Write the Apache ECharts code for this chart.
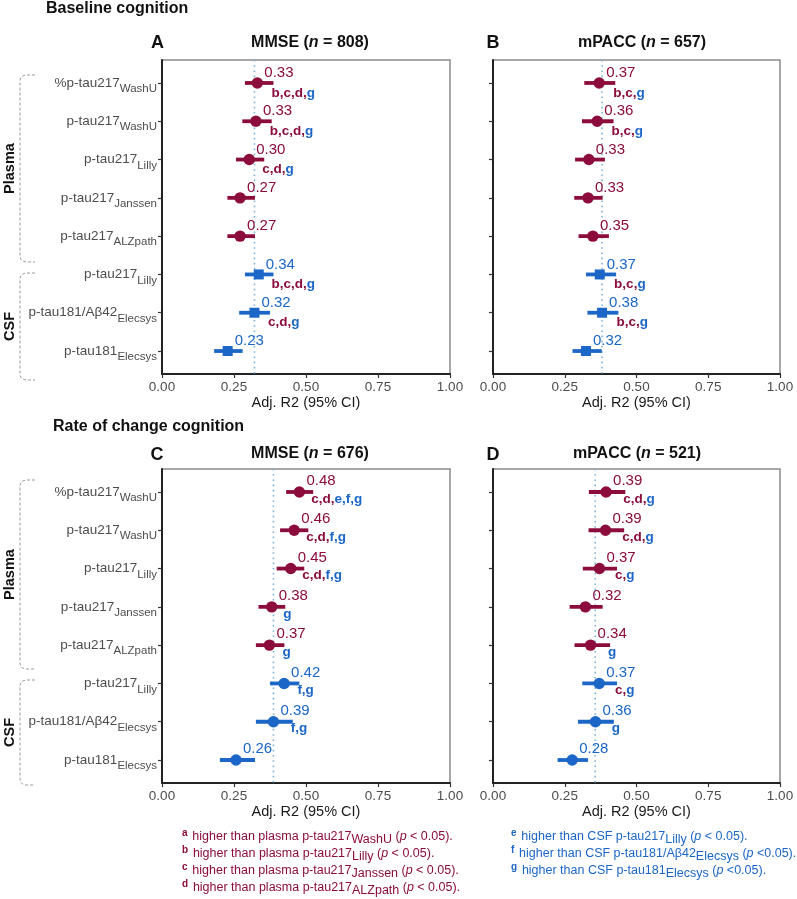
<!DOCTYPE html>
<html><head><meta charset="utf-8">
<script src="https://cdn.jsdelivr.net/npm/echarts@6/dist/echarts.min.js"></script>
<style>html,body{margin:0;padding:0;background:#fff}#c{width:797px;height:899px}</style>
</head><body><div id="c"></div>
<script>
// ---------- data ----------
const rowMain = ['%p-tau217','p-tau217','p-tau217','p-tau217','p-tau217','p-tau217','p-tau181/Aβ42','p-tau181'];
const rowSub  = ['WashU','WashU','Lilly','Janssen','ALZpath','Lilly','Elecsys','Elecsys'];
const rowIsCSF = [0,0,0,0,0,1,1,1];
const xTicks = [0, 0.25, 0.5, 0.75, 1];

// A: Baseline MMSE
const estA = [0.331,0.326,0.303,0.271,0.271,0.336,0.321,0.228];
const loA  = [0.288,0.279,0.257,0.227,0.227,0.288,0.268,0.181];
const hiA  = [0.387,0.381,0.355,0.323,0.323,0.387,0.375,0.280];
const letA = ['b,c,d,g','b,c,d,g','c,d,g','','','b,c,d,g','c,d,g',''];
const refA = 0.321;
// B: Baseline mPACC
const estB = [0.370,0.363,0.334,0.331,0.348,0.372,0.380,0.324];
const loB  = [0.318,0.310,0.286,0.283,0.298,0.324,0.329,0.277];
const hiB  = [0.426,0.420,0.390,0.382,0.404,0.429,0.437,0.379];
const letB = ['b,c,g','b,c,g','','','','b,c,g','b,c,g',''];
const refB = 0.380;
// C: Rate of change MMSE
const estC = [0.477,0.459,0.447,0.381,0.373,0.424,0.387,0.257];
const loC  = [0.431,0.410,0.398,0.335,0.326,0.375,0.326,0.201];
const hiC  = [0.525,0.508,0.494,0.428,0.425,0.477,0.454,0.323];
const letC = ['c,d,e,f,g','c,d,f,g','c,d,f,g','g','g','f,g','f,g',''];
const refC = 0.387;
// D: Rate of change mPACC
const estD = [0.394,0.392,0.371,0.322,0.340,0.370,0.357,0.276];
const loD  = [0.334,0.333,0.313,0.267,0.284,0.311,0.296,0.225];
const hiD  = [0.461,0.457,0.432,0.382,0.408,0.432,0.421,0.331];
const letD = ['c,d,g','c,d,g','c,g','','g','c,g','g',''];
const refD = 0.356;

const panelTitles = [['MMSE (','n',' = 808)'],['mPACC (','n',' = 657)'],['MMSE (','n',' = 676)'],['mPACC (','n',' = 521)']];
const panelLetters = ['A','B','C','D'];
const sectionTitles = ['Baseline cognition','Rate of change cognition'];
const groupNames = ['Plasma','CSF'];

// ---------- style ----------
const RED = '#8c0d3b', BLUE = '#1b66c6';
const FONT = '"Liberation Sans", Arial, Helvetica, sans-serif';
const Y_MIN = -0.6, Y_MAX = 7.6;

const panels = [
  {est:estA, lo:loA, hi:hiA, let:letA, ref:refA, left:162, top:60, width:288, csf:'square', labels:true,  valDy:-10, letDy:10},
  {est:estB, lo:loB, hi:hiB, let:letB, ref:refB, left:493, top:60, width:287, csf:'square', labels:false, valDy:-10, letDy:10},
  {est:estC, lo:loC, hi:hiC, let:letC, ref:refC, left:162, top:469, width:288, csf:'circle', labels:true,  valDy:-11, letDy:7},
  {est:estD, lo:loD, hi:hiD, let:letD, ref:refD, left:493, top:469, width:287, csf:'circle', labels:false, valDy:-11, letDy:7}
];
const PH = 314;

function letterRich(s) {
  const parts = s.split(',');
  return parts.map((L, k) => {
    const cls = 'abcd'.indexOf(L) >= 0 ? 'r' : 'b';
    return '{' + cls + '|' + L + (k < parts.length - 1 ? ',' : '') + '}';
  }).join('');
}

function makeRender(p) {
  return function (params, api) {
    const i = params.dataIndex;
    const est = api.value(0), lo = api.value(1), hi = api.value(2), row = api.value(3);
    const c = api.coord([est, row]), a = api.coord([lo, row]), b = api.coord([hi, row]);
    const col = rowIsCSF[i] ? BLUE : RED;
    const ch = [{type:'line', shape:{x1:a[0], y1:a[1], x2:b[0], y2:b[1]}, style:{stroke:col, lineWidth:3.8}}];
    if (rowIsCSF[i] && p.csf === 'square') {
      ch.push({type:'rect', shape:{x:c[0]-5, y:c[1]-5, width:10, height:10}, style:{fill:col}});
    } else {
      ch.push({type:'circle', shape:{cx:c[0], cy:c[1], r:5.7}, style:{fill:col}});
    }
    ch.push({type:'text', style:{text: est.toFixed(2), x:c[0]+7, y:c[1]+p.valDy, fill:col,
      fontSize:15, fontFamily:FONT, align:'left', verticalAlign:'middle'}});
    const L = p.let[i];
    if (L) {
      ch.push({type:'text', style:{text: letterRich(L), x:b[0]-2, y:c[1]+p.letDy, align:'left', verticalAlign:'middle',
        rich:{r:{fill:RED, fontWeight:'bold', fontSize:13.5, fontFamily:FONT},
              b:{fill:BLUE, fontWeight:'bold', fontSize:13.5, fontFamily:FONT}}}});
    }
    return {type:'group', children:ch};
  };
}

const grids = [], xAxes = [], yAxes = [], series = [];
panels.forEach((p, k) => {
  grids.push({left:p.left, top:p.top, width:p.width, height:PH, show:true, borderColor:'#8a8a8a', borderWidth:1.5,
    backgroundColor:'#fff', containLabel:false, outerBoundsMode:'none'});
  xAxes.push({type:'value', gridIndex:k, min:0, max:1, interval:0.25,
    axisLine:{show:true, onZero:false, lineStyle:{color:'#222', width:2}},
    axisTick:{show:true, length:4, lineStyle:{color:'#333', width:1.2}},
    axisLabel:{show:true, margin:6.5, color:'#4d4d4d', fontSize:13.5, fontFamily:FONT, formatter:v => v.toFixed(2)},
    splitLine:{show:false},
    name:'Adj. R2 (95% CI)', nameLocation:'middle', nameGap:21.5,
    nameTextStyle:{color:'#1a1a1a', fontSize:14.5, fontFamily:FONT}});
  yAxes.push({type:'value', gridIndex:k, min:Y_MIN, max:Y_MAX, inverse:true,
    axisLine:{show:true, onZero:false, lineStyle:{color:'#222', width:2}},
    axisTick:{show:true, length:4, customValues:[0,1,2,3,4,5,6,7], lineStyle:{color:'#333', width:1.2}},
    axisLabel:{show:p.labels, margin:5, customValues:[0,1,2,3,4,5,6,7],
      formatter: v => '{m|' + rowMain[v] + '}{s|' + rowSub[v] + '}',
      rich:{m:{fontSize:13.5, color:'#4d4d4d', fontFamily:FONT, lineHeight:24},
            s:{fontSize:11.5, color:'#4d4d4d', fontFamily:FONT, lineHeight:8, verticalAlign:'bottom'}}},
    splitLine:{show:false}});
  series.push({type:'line', xAxisIndex:k, yAxisIndex:k, data:[[p.ref, Y_MIN],[p.ref, Y_MAX]],
    symbol:'none', silent:true, z:1, animation:false,
    lineStyle:{color:'#7fb3dd', width:1.6, type:[1.6,3.6]}});
  series.push({type:'custom', xAxisIndex:k, yAxisIndex:k, z:3, animation:false, silent:true,
    dimensions:['est','lo','hi','row'], encode:{x:[0,1,2], y:3},
    data: p.est.map((e, i) => [e, p.lo[i], p.hi[i], i]),
    renderItem: makeRender(p)});
});

// ---------- graphic annotations ----------
const g = [];
function txt(x, y, text, opt) {
  g.push({type:'text', x:x, y:y, style:Object.assign({text:text, fontFamily:FONT, fill:'#111',
    verticalAlign:'middle', align:'left'}, opt || {})});
}
txt(46, 9, sectionTitles[0], {fontSize:16, fontWeight:'bold'});
txt(53, 427, sectionTitles[1], {fontSize:16, fontWeight:'bold'});
const letterPos = [[157.5,43],[493,43],[157,455],[493,455]];
const titlePos = [[310,43],[642,43],[310,454],[637,454]];
panelLetters.forEach((L, k) => txt(letterPos[k][0], letterPos[k][1], L, {fontSize:18, fontWeight:'bold', align:'center'}));
panelTitles.forEach((t, k) => {
  g.push({type:'text', x:titlePos[k][0], y:titlePos[k][1], style:{
    text:'{b|' + t[0] + '}{i|' + t[1] + '}{b|' + t[2] + '}', align:'center', verticalAlign:'middle',
    rich:{b:{fontSize:16, fontWeight:'bold', fontFamily:FONT, fill:'#111'},
          i:{fontSize:16, fontWeight:'bold', fontStyle:'italic', fontFamily:FONT, fill:'#111'}}}});
});

// brackets and group labels
const brackets = [[75,262,0],[273,380,1],[480,669,0],[680,785,1]];
brackets.forEach(b => {
  const t = b[0], e = b[1];
  g.push({type:'polyline', shape:{points:[[35,t],[26,t],[22.5,t+1],[20.6,t+3],[20,t+6],
      [20,e-6],[20.6,e-3],[22.5,e-1],[26,e],[35,e]]},
    style:{fill:null, stroke:'#9a9a9a', lineWidth:1, lineDash:[3,2]}});
  g.push({type:'text', x:10, y:(t+e)/2, rotation:Math.PI/2, style:{text:groupNames[b[2]], fontFamily:FONT,
    fontSize:14.5, fontWeight:'bold', fill:'#111', align:'center', verticalAlign:'middle'}});
});

// footnotes
const fnLeft = [['a','WashU'],['b','Lilly'],['c','Janssen'],['d','ALZpath']];
const fnRight = [['e','higher than CSF p-tau217','Lilly',' < 0.05).'],
                 ['f','higher than CSF p-tau181/Aβ42','Elecsys',' <0.05).'],
                 ['g','higher than CSF p-tau181','Elecsys',' <0.05).']];
const fnY = [837, 854, 871, 888];
function fnRich(col) {
  return {sup:{fontSize:10, fontWeight:'bold', fontFamily:FONT, fill:col, lineHeight:8, verticalAlign:'top', padding:[0,2,0,0]},
          t:{fontSize:12.5, fontFamily:FONT, fill:col, lineHeight:18},
          i:{fontSize:12.5, fontStyle:'italic', fontFamily:FONT, fill:col, lineHeight:18},
          sub:{fontSize:12.5, fontFamily:FONT, fill:col, lineHeight:8, verticalAlign:'bottom'}};
}
fnLeft.forEach((f, k) => {
  g.push({type:'text', x:182, y:fnY[k], style:{align:'left', verticalAlign:'middle',
    text:'{sup|' + f[0] + ' }{t|higher than plasma p-tau217}{sub|' + f[1] + '}{t| (}{i|p}{t| < 0.05).}',
    rich:fnRich(RED)}});
});
fnRight.forEach((f, k) => {
  g.push({type:'text', x:511, y:fnY[k], style:{align:'left', verticalAlign:'middle',
    text:'{sup|' + f[0] + ' }{t|' + f[1] + '}{sub|' + f[2] + '}{t| (}{i|p}{t|' + f[3] + '}',
    rich:fnRich(BLUE)}});
});

const chart = echarts.init(document.getElementById('c'), null, {renderer:'canvas'});
chart.setOption({
  animation:false,
  backgroundColor:'#fff',
  textStyle:{fontFamily:FONT},
  grid:grids, xAxis:xAxes, yAxis:yAxes, series:series, graphic:g
});
</script></body></html>
